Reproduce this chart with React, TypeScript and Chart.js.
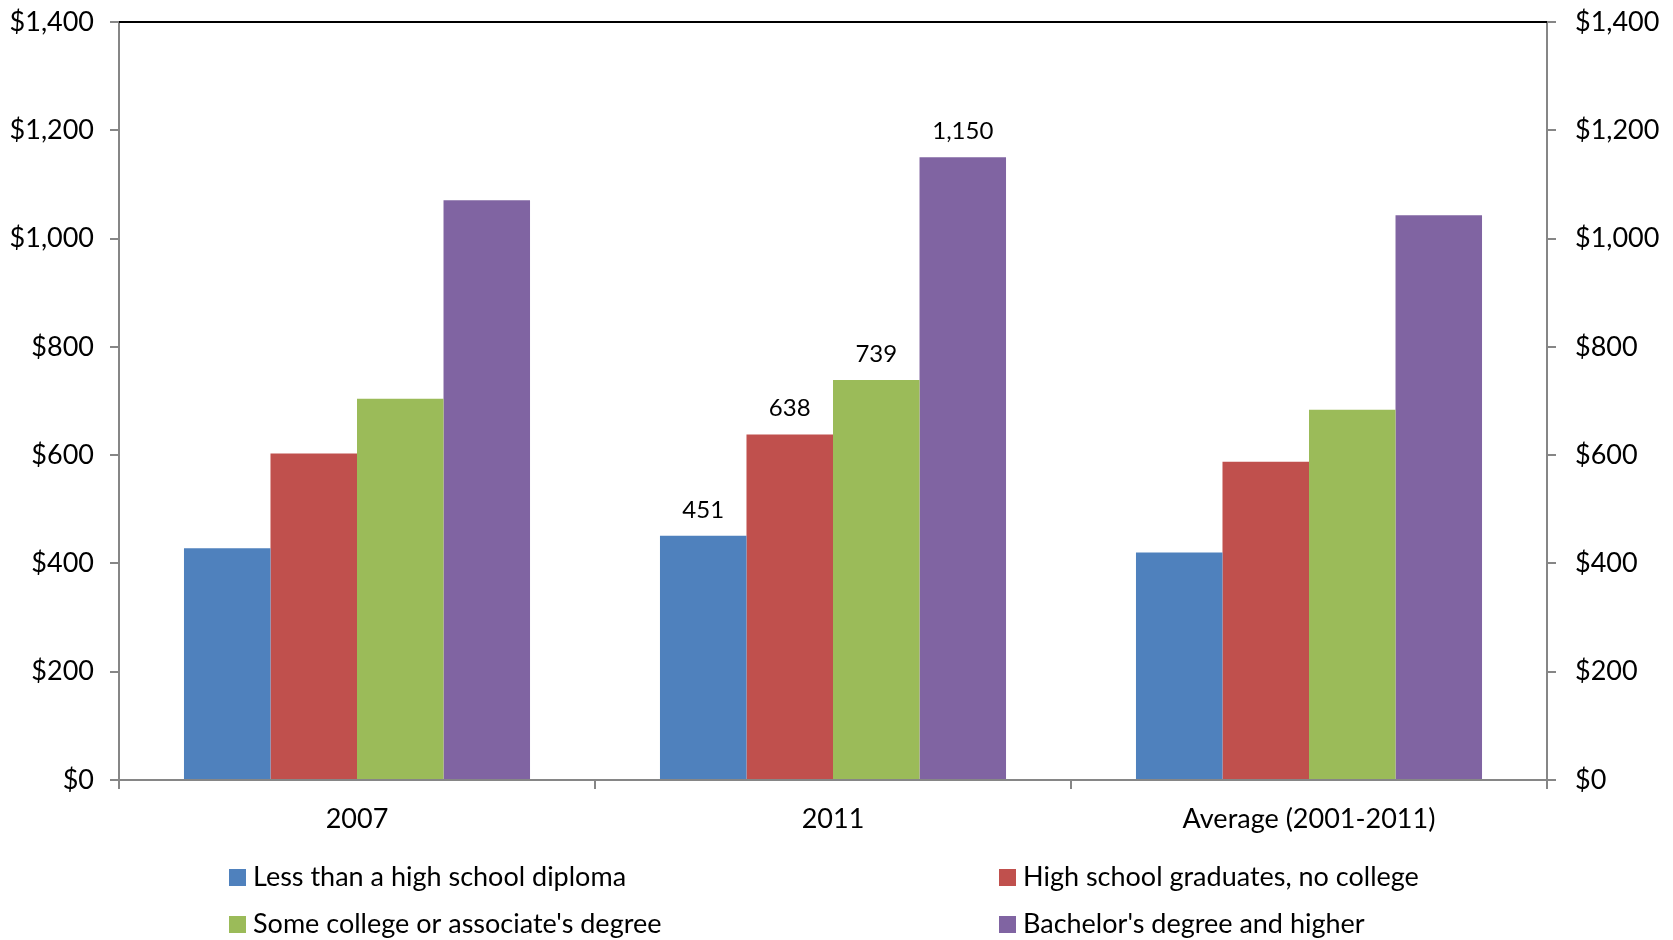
import React, { useEffect, useRef } from "react";
import { Chart, registerables } from "chart.js";

Chart.register(...registerables);

const categories = ["2007", "2011", "Average (2001-2011)"];
const seriesNames = [
  "Less than a high school diploma",
  "High school graduates, no college",
  "Some college or associate's degree",
  "Bachelor's degree and higher",
];
const lessThanHS = [428, 451, 420];
const hsGrad = [603, 638, 588];
const someCollege = [704, 739, 684];
const bachelors = [1071, 1150, 1043];
const colors = ["#4F81BD", "#C0504D", "#9BBB59", "#8064A2"];
const labeledCategory = 1;

const FONT = "Lato, 'Open Sans', sans-serif";

const fmtMoney = (v: number) => "$" + v.toLocaleString("en-US");

const dataLabelPlugin = {
  id: "dataLabels",
  afterDatasetsDraw(chart: any) {
    const ctx = chart.ctx;
    ctx.save();
    ctx.fillStyle = "#000";
    ctx.font = `24px ${FONT}`;
    ctx.textAlign = "center";
    ctx.textBaseline = "middle";
    chart.data.datasets.forEach((ds: any, i: number) => {
      const meta = chart.getDatasetMeta(i);
      const el = meta.data[labeledCategory];
      if (!el) return;
      const v = ds.data[labeledCategory];
      ctx.fillText(v.toLocaleString("en-US"), el.x, el.y - 26);
    });
    ctx.restore();
  },
};

const frameAndLegendPlugin = {
  id: "frameLegend",
  afterDraw(chart: any) {
    const ctx = chart.ctx;
    const a = chart.chartArea;
    ctx.save();
    ctx.strokeStyle = "#000";
    ctx.lineWidth = 2;
    ctx.beginPath();
    ctx.moveTo(a.left, a.top);
    ctx.lineTo(a.right, a.top);
    ctx.stroke();

    // legend, two columns
    const colX = [229, 999];
    const rowY = [877, 924];
    ctx.font = `27px ${FONT}`;
    ctx.textAlign = "left";
    ctx.textBaseline = "middle";
    chart.data.datasets.forEach((ds: any, i: number) => {
      const x = colX[i % 2];
      const y = rowY[Math.floor(i / 2)];
      ctx.fillStyle = ds.backgroundColor;
      ctx.fillRect(x, y - 8, 17, 17);
      ctx.fillStyle = "#000";
      ctx.fillText(ds.label, x + 24, y);
    });
    ctx.restore();
  },
};

const noVerticalPadding = (s: any) => {
  s.paddingTop = 0;
  s.paddingBottom = 0;
};

export default function App() {
  const ref = useRef<HTMLCanvasElement | null>(null);
  useEffect(() => {
    if (!ref.current) return;
    const seriesData = [lessThanHS, hsGrad, someCollege, bachelors];
    const chart = new Chart(ref.current, {
      type: "bar",
      data: {
        labels: categories,
        datasets: seriesData.map((d, i) => ({
          label: seriesNames[i],
          data: d,
          backgroundColor: colors[i],
          borderWidth: 0,
          categoryPercentage: 0.727,
          barPercentage: 1,
          yAxisID: "y",
        })),
      },
      options: {
        responsive: false,
        animation: false,
        devicePixelRatio: 1,
        layout: { padding: { top: 22, left: 0, right: 0, bottom: 0 } },
        plugins: {
          legend: { display: false },
          tooltip: { enabled: false },
        },
        scales: {
          x: {
            offset: true,
            grid: {
              offset: true,
              drawOnChartArea: false,
              drawTicks: true,
              tickLength: 9,
              color: "#868686",
              lineWidth: 2,
            },
            border: { color: "#868686", width: 2 },
            ticks: {
              color: "#000",
              font: { family: FONT, size: 27 },
              padding: 14,
            },
            afterFit: (s: any) => {
              s.height = 160;
              s.paddingLeft = 0;
              s.paddingRight = 0;
            },
          },
          y: {
            position: "left",
            min: 0,
            max: 1400,
            ticks: {
              stepSize: 200,
              color: "#000",
              font: { family: FONT, size: 27 },
              padding: 16,
              callback: (v: any) => fmtMoney(Number(v)),
            },
            grid: {
              drawOnChartArea: false,
              drawTicks: true,
              tickLength: 9,
              color: "#868686",
              lineWidth: 2,
            },
            border: { color: "#868686", width: 2 },
            afterFit: (s: any) => {
              s.width = 119;
              noVerticalPadding(s);
            },
          },
          y2: {
            position: "right",
            min: 0,
            max: 1400,
            ticks: {
              stepSize: 200,
              color: "#000",
              font: { family: FONT, size: 27 },
              padding: 19,
              callback: (v: any) => fmtMoney(Number(v)),
            },
            grid: {
              drawOnChartArea: false,
              drawTicks: true,
              tickLength: 9,
              color: "#868686",
              lineWidth: 2,
            },
            border: { color: "#868686", width: 2 },
            afterFit: (s: any) => {
              s.width = 126;
              noVerticalPadding(s);
            },
          },
        },
      },
      plugins: [dataLabelPlugin, frameAndLegendPlugin],
    });
    return () => chart.destroy();
  }, []);
  return (
    <div style={{ position: "absolute", left: 0, top: 0, width: 1673, height: 940, background: "#fff" }}>
      <canvas ref={ref} width={1673} height={940} />
    </div>
  );
}
